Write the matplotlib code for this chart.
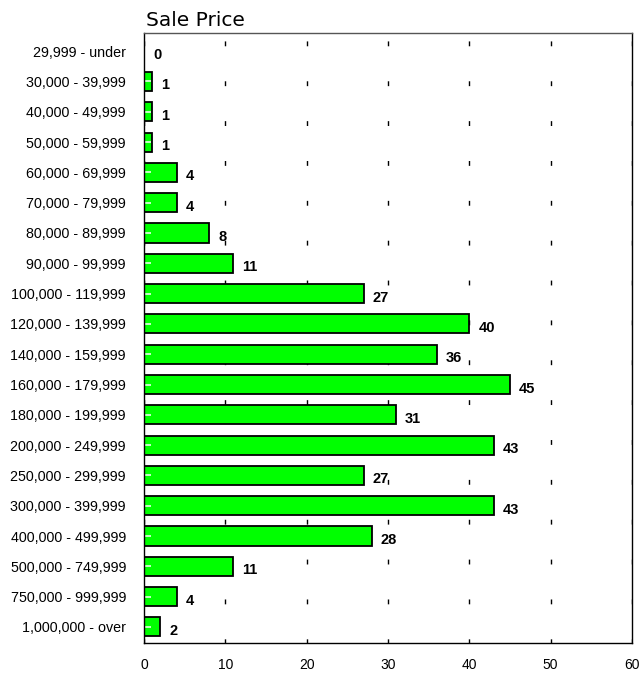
import numpy as np
import matplotlib.pyplot as plt
from matplotlib.markers import TICKRIGHT

ranges = ["29,999 - under", "30,000 - 39,999", "40,000 - 49,999", "50,000 - 59,999",
          "60,000 - 69,999", "70,000 - 79,999", "80,000 - 89,999", "90,000 - 99,999",
          "100,000 - 119,999", "120,000 - 139,999", "140,000 - 159,999",
          "160,000 - 179,999", "180,000 - 199,999", "200,000 - 249,999",
          "250,000 - 299,999", "300,000 - 399,999", "400,000 - 499,999",
          "500,000 - 749,999", "750,000 - 999,999", "1,000,000 - over"]
counts = [0, 1, 1, 1, 4, 4, 8, 11, 27, 40, 36, 45, 31, 43, 27, 43, 28, 11, 4, 2]
xticks = [0, 10, 20, 30, 40, 50, 60]

plt.rcParams['font.family'] = ['Liberation Sans', 'DejaVu Sans']

fig = plt.figure(figsize=(6.42, 6.73), dpi=100)
ax = fig.add_axes([144/642, 1-643/673, 488/642, 610/673])

y = np.arange(len(ranges))
ax.barh(y, counts, height=0.63, color='#00ff00', edgecolor='black', linewidth=1.3, zorder=3)
# little white marks at the left end of each bar
ax.plot(np.zeros(len(y)), y, linestyle='none', marker=TICKRIGHT, markersize=5,
        markeredgewidth=1.1, color='white', zorder=4, clip_on=False)

for yi, c in zip(y, counts):
    ax.annotate(str(c), (c, yi), xytext=(9, -4), textcoords='offset pixels',
                ha='left', va='center', fontsize=10.5, fontweight='bold', zorder=4)

ax.set_xlim(0, 60)
ax.set_ylim(len(ranges) - 1 + 0.53, -0.6)
ax.set_xticks(xticks)
ax.set_yticks(y)
ax.set_yticklabels(ranges, fontsize=10.3)
ax.tick_params(axis='x', length=0, labelsize=10, pad=11)
ax.tick_params(axis='y', length=0, pad=13)

ax.xaxis.grid(True, color='black', linewidth=1.0, linestyle=(0.5, (3.5, 25.2)), zorder=1)
ax.set_axisbelow(True)

for s in ax.spines.values():
    s.set_linewidth(1)
    s.set_color('black')
    s.set_zorder(5)
ax.spines['top'].set_color('#555555')

fig.text(146/642, 1-20/673, "Sale Price", fontsize=14.5, family='DejaVu Sans',
         ha='left', va='center')

fig.savefig("out.png", dpi=100)
